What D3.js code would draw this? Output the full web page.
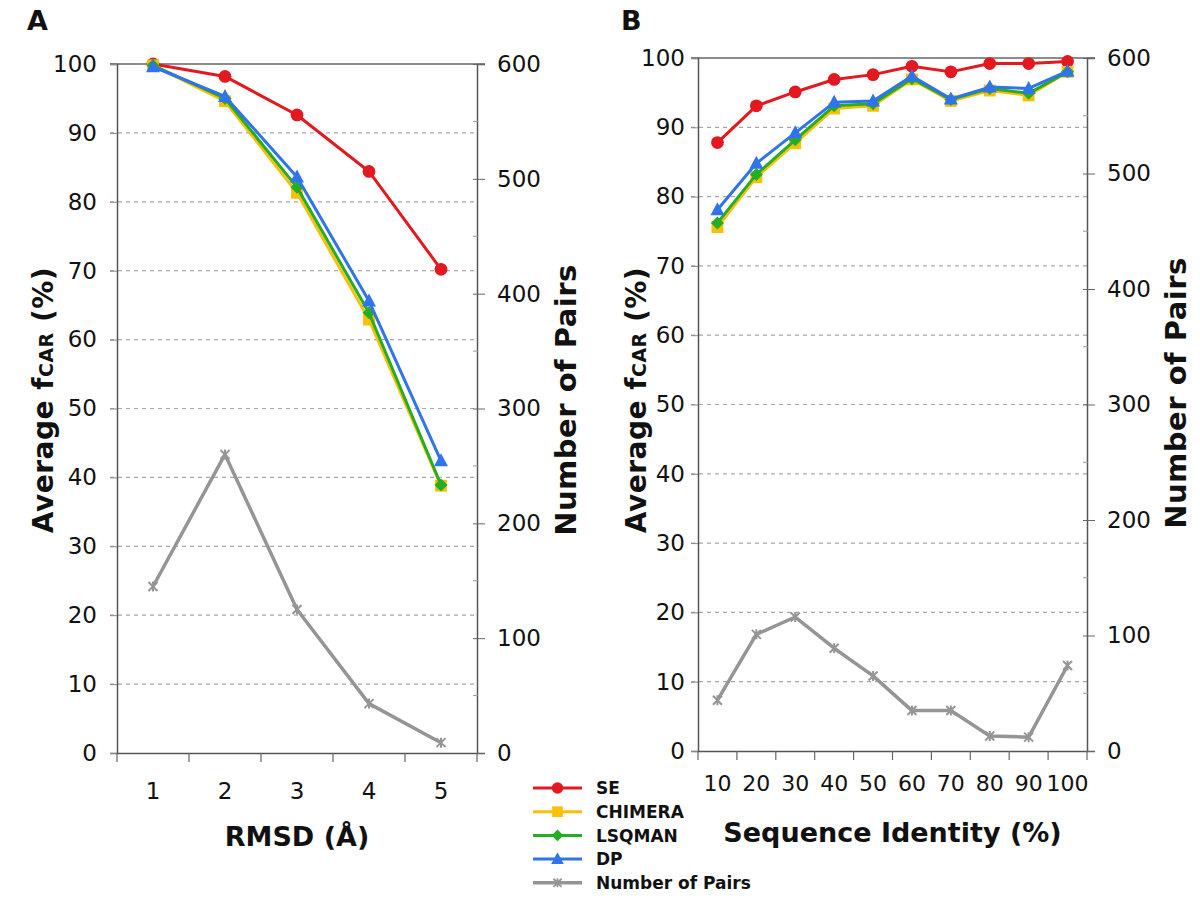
<!DOCTYPE html>
<html>
<head>
<meta charset="utf-8">
<script src="https://cdn.jsdelivr.net/npm/d3@7"></script>
<style>
  body { margin: 0; background: #fff; }
  svg text { font-family: "DejaVu Sans", sans-serif; fill: #111; }
</style>
</head>
<body>
<div id="chart"></div>
<script>
// Panel A data (RMSD bins)
const rmsdBins = ["1", "2", "3", "4", "5"];
const seA = [100, 98.2, 92.6, 84.4, 70.2];
const chimeraA = [99.8, 94.6, 81.3, 62.9, 38.8];
const lsqmanA = [99.8, 95.0, 82.1, 63.9, 38.9];
const dpA = [99.6, 95.3, 83.6, 65.6, 42.4];
const pairsA = [145, 260, 125, 43, 9];

// Panel B data (sequence identity bins)
const identityBins = ["10", "20", "30", "40", "50", "60", "70", "80", "90", "100"];
const seB = [87.8, 93.1, 95.1, 96.9, 97.6, 98.8, 98.0, 99.2, 99.2, 99.5];
const chimeraB = [75.6, 82.8, 87.7, 92.7, 93.1, 96.9, 93.8, 95.3, 94.6, 98.0];
const lsqmanB = [76.2, 83.2, 88.2, 93.1, 93.4, 97.0, 94.0, 95.6, 94.9, 98.0];
const dpB = [78.1, 84.8, 89.2, 93.6, 93.8, 97.4, 94.1, 95.8, 95.6, 98.1];
const pairsB = [44, 101, 116, 89, 65, 35, 35, 13, 12, 74];

// Axis ticks
const leftTicks = d3.range(0, 101, 10);
const rightTicks = d3.range(0, 601, 100);
const rightMinor = d3.range(50, 600, 100);

const seriesNames = ["SE", "CHIMERA", "LSQMAN", "DP", "Number of Pairs"];
const colors = ["#e3191f", "#fbbf07", "#25ad25", "#2f74ea", "#959595"];
const shapes = ["circle", "square", "diamond", "triangle", "star"];

let width = 1200, height = 900;

let svg = d3.select("#chart")
  .append("svg")
  .attr("width", width)
  .attr("height", height);

// marker path generator
function markerPath(shape) {
  if (shape === "circle") return d3.symbol(d3.symbolCircle, 128)();
  if (shape === "square") return d3.symbol(d3.symbolSquare, 140)();
  if (shape === "diamond") return "M0,-6.5L6.5,0L0,6.5L-6.5,0Z";
  if (shape === "triangle") return "M0,-7.5L7,5.5L-7,5.5Z";
  // asterisk style cross
  return "M-4.5,-4.5L4.5,4.5M-4.5,4.5L4.5,-4.5M0,-5L0,5";
}

function drawMarker(g, shape, color, x, y, s) {
  let p = g.append("path")
    .attr("d", markerPath(shape))
    .attr("transform", `translate(${x},${y}) scale(${s || 1})`);
  if (shape === "star") {
    p.attr("fill", "none").attr("stroke", color).attr("stroke-width", 2);
  } else {
    p.attr("fill", color);
  }
}

function drawPanel(cfg) {
  let g = svg.append("g");

  let x = d3.scaleBand()
    .domain(cfg.cats)
    .range([cfg.left, cfg.right])
    .paddingInner(0).paddingOuter(0);

  let y = d3.scaleLinear().domain([0, 100]).range([cfg.bottom, cfg.top]);
  let y2 = d3.scaleLinear().domain([0, 600]).range([cfg.bottom, cfg.top]);

  // dashed gridlines for left scale
  g.selectAll(".grid")
    .data(leftTicks.filter(d => d > 0 && d < 100))
    .enter().append("line")
    .attr("x1", cfg.left - 7)
    .attr("x2", cfg.right)
    .attr("y1", d => y(d))
    .attr("y2", d => y(d))
    .attr("stroke", "#a8a8a8")
    .attr("stroke-width", 1.2)
    .attr("stroke-dasharray", "4,4");

  // top border line
  g.append("line")
    .attr("x1", cfg.left - 7).attr("x2", cfg.right + 8)
    .attr("y1", cfg.top).attr("y2", cfg.top)
    .attr("stroke", "#666").attr("stroke-width", 1.5);

  // left axis
  let yAxis = g.append("g")
    .attr("transform", `translate(${cfg.left},0)`)
    .call(d3.axisLeft(y).tickValues(leftTicks).tickSize(7).tickPadding(cfg.leftPad));
  yAxis.select(".domain").attr("stroke", "#555").attr("stroke-width", 1.5);
  yAxis.selectAll(".tick line").attr("stroke", "#888");
  yAxis.selectAll("text").style("font-size", "23px").attr("font-family", "DejaVu Sans");

  // right axis
  let y2Axis = g.append("g")
    .attr("transform", `translate(${cfg.right},0)`)
    .call(d3.axisRight(y2).tickValues(rightTicks).tickSize(8).tickPadding(12));
  y2Axis.select(".domain").attr("stroke", "#555").attr("stroke-width", 1.5);
  y2Axis.selectAll(".tick line").attr("stroke", "#666").attr("x1", -4);
  y2Axis.selectAll("text").style("font-size", "23px").attr("font-family", "DejaVu Sans");

  // right minor ticks
  g.selectAll(".minor")
    .data(rightMinor)
    .enter().append("line")
    .attr("x1", cfg.right - 4).attr("x2", cfg.right + 1)
    .attr("y1", d => y2(d)).attr("y2", d => y2(d))
    .attr("stroke", "#999").attr("stroke-width", 1);

  // bottom axis with ticks at band boundaries
  let xAxis = g.append("g")
    .attr("transform", `translate(0,${cfg.bottom})`)
    .call(d3.axisBottom(x).tickSize(0).tickPadding(cfg.xPad));
  xAxis.select(".domain").attr("stroke", "#555").attr("stroke-width", 1.5);
  xAxis.selectAll("text").style("font-size", cfg.xFont).attr("font-family", "DejaVu Sans");

  let bounds = cfg.cats.map(c => x(c)).concat([cfg.right]);
  g.selectAll(".xtick")
    .data(bounds)
    .enter().append("line")
    .attr("x1", d => d).attr("x2", d => d)
    .attr("y1", cfg.bottom).attr("y2", cfg.bottom + 9)
    .attr("stroke", "#666").attr("stroke-width", 1.2);

  // series
  let cx = c => x(c) + x.bandwidth() / 2;
  let allSeries = [cfg.se, cfg.chimera, cfg.lsqman, cfg.dp, cfg.pairs];
  allSeries.forEach((vals, i) => {
    let sc = i === 4 ? y2 : y;
    let line = d3.line()
      .x((d, j) => cx(cfg.cats[j]))
      .y(d => sc(d));
    g.append("path")
      .datum(vals)
      .attr("d", line)
      .attr("fill", "none")
      .attr("stroke", colors[i])
      .attr("stroke-width", i === 4 ? 3.5 : 3)
      .attr("stroke-linejoin", "round");
    vals.forEach((v, j) => drawMarker(g, shapes[i], colors[i], cx(cfg.cats[j]), sc(v)));
  });

  // panel letter
  g.append("text")
    .text(cfg.letter)
    .attr("x", cfg.letterX)
    .attr("y", 30)
    .style("font-size", "27px")
    .style("font-weight", "bold");

  // x title
  g.append("text")
    .text(cfg.xTitle)
    .attr("x", (cfg.left + cfg.right) / 2)
    .attr("y", cfg.xTitleY)
    .attr("text-anchor", "middle")
    .style("font-size", "27px")
    .style("font-weight", "bold");

  // left y title with subscript
  let lt = g.append("text")
    .attr("transform", `translate(${cfg.leftTitleX},${cfg.leftTitleY}) rotate(-90)`)
    .attr("text-anchor", "middle")
    .style("font-size", "28px")
    .style("letter-spacing", "0.5px")
    .style("font-weight", "bold");
  lt.append("tspan").text("Average f");
  lt.append("tspan").text("CAR").style("font-size", "19px");
  lt.append("tspan").text(" (%)");

  // right y title
  g.append("text")
    .text("Number of Pairs")
    .attr("transform", `translate(${cfg.rightTitleX},${cfg.rightTitleY}) rotate(-90)`)
    .attr("text-anchor", "middle")
    .style("font-size", "29px")
    .style("letter-spacing", "0.5px")
    .style("font-weight", "bold");
}

drawPanel({
  letter: "A", letterX: 27,
  cats: rmsdBins, left: 117, right: 477, top: 64, bottom: 753,
  se: seA, chimera: chimeraA, lsqman: lsqmanA, dp: dpA, pairs: pairsA,
  leftPad: 13, xPad: 30, xFont: "23px",
  xTitle: "RMSD (Å)", xTitleY: 846,
  leftTitleX: 53, leftTitleY: 400, rightTitleX: 576, rightTitleY: 400
});

drawPanel({
  letter: "B", letterX: 621,
  cats: identityBins, left: 698, right: 1087, top: 58, bottom: 751,
  se: seB, chimera: chimeraB, lsqman: lsqmanB, dp: dpB, pairs: pairsB,
  leftPad: 6, xPad: 24, xFont: "22px",
  xTitle: "Sequence Identity (%)", xTitleY: 842,
  leftTitleX: 646, leftTitleY: 400, rightTitleX: 1186, rightTitleY: 393
});

// Legend
const legend = svg.append("g");
seriesNames.forEach((name, i) => {
  let ly = 788 + i * 23.7;
  legend.append("line")
    .attr("x1", 533).attr("x2", 582)
    .attr("y1", ly).attr("y2", ly)
    .attr("stroke", colors[i])
    .attr("stroke-width", i === 4 ? 3.5 : 3);
  drawMarker(legend, shapes[i], colors[i], 557.5, ly, 0.9);
  legend.append("text")
    .text(name)
    .attr("x", 596)
    .attr("y", ly)
    .attr("dy", "0.36em")
    .style("font-size", "17px")
    .style("font-weight", "bold");
});
</script>
</body>
</html>
